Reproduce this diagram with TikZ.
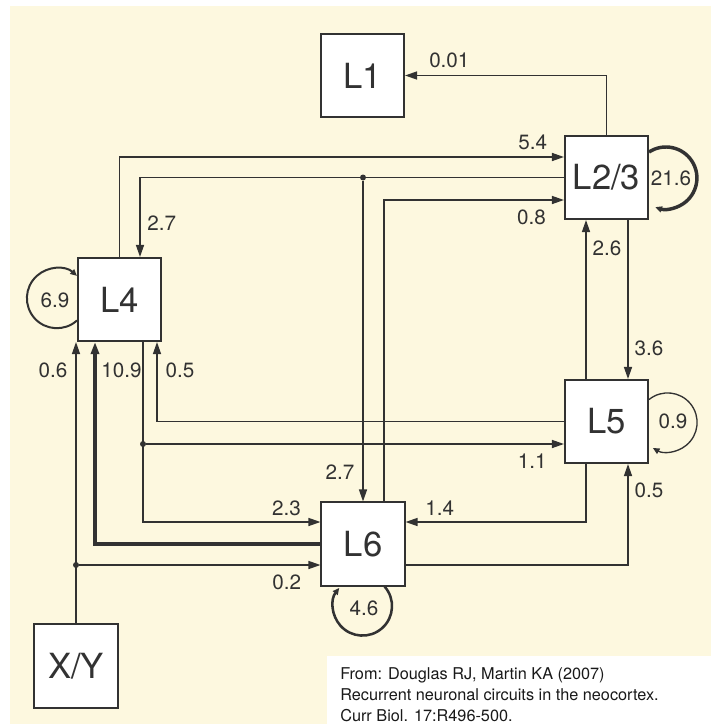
\documentclass[tikz,border=0pt]{standalone}
\usepackage{fontspec}
\setmainfont{TeX Gyre Heros}
\usetikzlibrary{arrows.meta, positioning, calc}

\definecolor{paper}{RGB}{253,248,223}
\definecolor{ink}{RGB}{50,50,50}

\begin{document}
\begin{tikzpicture}[
    x=0.75pt, y=-0.75pt,
    lamina/.style={rectangle, draw=ink, line width=1.3pt, fill=white, minimum size=62.5pt, inner sep=0pt, text=ink, font=\fontsize{26}{26}\selectfont},
    arrow/.style={-{Triangle[length=9pt, width=6pt]}, draw=ink, line width=1.05pt},
    heavy/.style={arrow, line width=2.6pt},
    selfloop/.style={-{Triangle[length=5pt, width=4.5pt]}, draw=ink},
    val/.style={inner sep=0pt, text=ink, font=\fontsize{15.5}{15.5}\selectfont},
    junction/.style={circle, fill=ink, inner sep=0pt, minimum size=4.5pt}
]
\useasboundingbox (0,0) rectangle (711,724);
\fill[paper] (10,6) rectangle (711,724);
\fill[white] (327,656) rectangle (711,724);

\node[lamina] (L1) at (362.5,75.5) {L1};
\node[lamina] (L23) at (606.5,177.5) {L2/3};
\node[lamina] (L4) at (119.5,299.5) {L4};
\node[lamina] (L5) at (606.5,421.5) {L5};
\node[lamina] (L6) at (363,544) {L6};
\node[lamina] (XY) at (76,666) {X/Y};

% supragranular outputs
\draw[arrow] (L23.north) |- (L1.east) node[val, pos=0.89, above=5pt] {0.01};
\draw[arrow] (L4.north) |- ($(L23.west)+(0,-20.5)$) node[val, pos=0.965, above=5pt] {5.4};
\node[junction] (fork) at (L23.west -| L6.north) {};
\draw[arrow] (L23.west) -| ($(L4.north)+(20.5,0)$) node[val, pos=0.79, right=5pt] {2.7};
\draw[arrow] (fork) -- (L6.north) node[val, pos=0.91, left=6pt] {2.7};
\draw[arrow] ($(L6.north)+(21,0)$) |- ($(L23.west)+(0,22.5)$) node[val, pos=0.91, below=7pt] {0.8};
\draw[arrow] ($(L5.north)+(-20.5,0)$) -- ($(L23.south)+(-20.5,0)$) node[val, pos=0.82, right=4.5pt] {2.6};
\draw[arrow] ($(L23.south)+(21.5,0)$) -- ($(L5.north)+(21.5,0)$) node[val, pos=0.81, right=4.5pt] {3.6};

% thalamic input
\coordinate (l6in) at ($(L6.west)+(0,21)$);
\node[junction] (xytap) at (XY.north |- l6in) {};
\draw[arrow] (XY.north) -- (XY.north |- L4.south) node[val, pos=0.9, left=6pt] {0.6};
\draw[arrow] (xytap) -- (l6in) node[val, pos=0.86, below=6.5pt] {0.2};

% layer 4 and deep layers
\draw[heavy] (L6.west) -| ($(L4.south)+(-24.5,0)$) node[val, pos=0.93, right=3.5pt] {10.9};
\coordinate (l4out) at ($(L4.south)+(23.5,0)$);
\coordinate (l5in) at ($(L5.west)+(0,22.5)$);
\node[junction] (l4tap) at (l4out |- l5in) {};
\draw[arrow] (l4out) |- ($(L6.west)+(0,-22)$) node[val, pos=0.904, above=4pt] {2.3};
\draw[arrow] (l4tap) -- (l5in) node[val, pos=0.924, below=7pt] {1.1};
\draw[arrow] (L5.west) -| ($(L4.south)+(37.5,0)$) node[val, pos=0.82, right=6pt] {0.5};
\draw[arrow] ($(L5.south)+(-20.5,0)$) |- ($(L6.east)+(0,-22)$) node[val, pos=0.905, above=4pt] {1.4};
\draw[arrow] ($(L6.east)+(0,21)$) -| ($(L5.south)+(21.5,0)$) node[val, pos=0.87, right=4.5pt] {0.5};

% recurrent loops
\draw[selfloop, line width=2.6pt] ($(L23.east)+(0,-25.5)$) arc[start angle=237, end angle=470, radius=31];
\node[val] (w23) at ($(L23.east)+(22,0.5)$) {21.6};
\draw[selfloop, line width=1.5pt] ($(L4.west)+(0,21)$) arc[start angle=48, end angle=312, radius=30];
\node[val] (w4) at ($(L4.west)+(-22,0.5)$) {6.9};
\draw[selfloop, line width=1pt] ($(L5.east)+(0,-22)$) arc[start angle=231, end angle=480, radius=29.5];
\node[val] (w5) at ($(L5.east)+(24,-0.5)$) {0.9};
\draw[selfloop, line width=1.9pt] ($(L6.south)+(21.6,0)$) arc[start angle=-41.5, end angle=218, radius=29.5];
\node[val] (w6) at ($(L6.south)+(1,22)$) {4.6};

\node[anchor=north west, align=left, inner sep=0pt, text=black!90, font=\fontsize{12.2}{15.75}\selectfont] (cite) at (340,667.5) {From: Douglas RJ, Martin KA (2007)\\Recurrent neuronal circuits in the neocortex.\\Curr Biol. 17:R496-500.};
\end{tikzpicture}
\end{document}
